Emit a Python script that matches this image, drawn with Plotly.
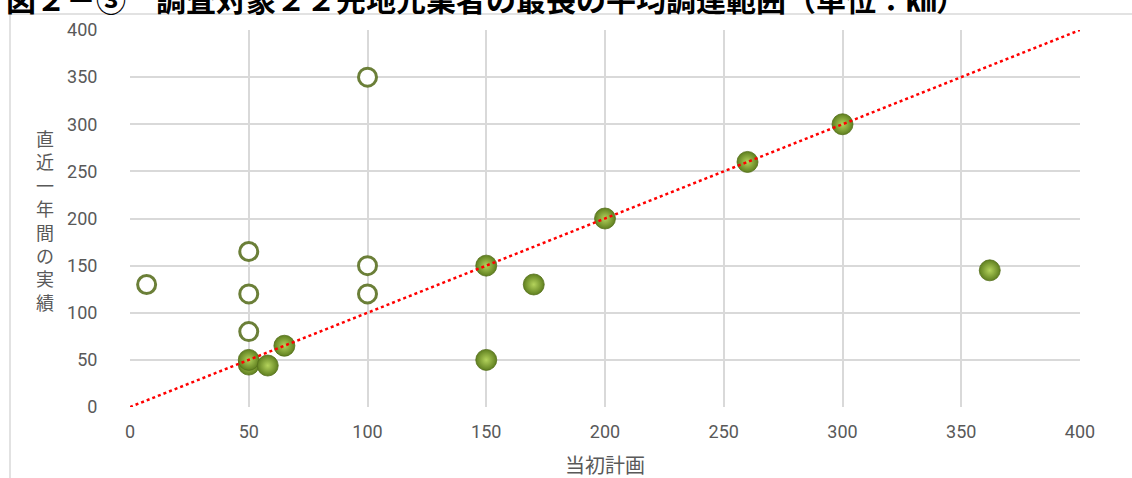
import plotly.graph_objects as go

# Data
hollow_x = [7, 50, 50, 50, 100, 100, 100]
hollow_y = [130, 165, 120, 80, 350, 150, 120]

filled_x = [50, 50, 58, 65, 150, 150, 170, 200, 260, 300, 362]
filled_y = [45, 50, 44, 65, 150, 50, 130, 200, 260, 300, 145]

line_x = [0, 400]
line_y = [0, 400]

tick_vals = [0, 50, 100, 150, 200, 250, 300, 350, 400]

title_text = "図２－③　調査対象２２先地元業者の最長の平均調達範囲（単位：㎞）"
x_title = "当初計画"
y_title = "直近一年間の実績"

W, H = 1132, 478
L, R, T, B = 130, 52, 30, 71
pw, ph = W - L - R, H - T - B

def px2x(px):
    return (px - L) / pw

def py2y(py):
    return (H - B - py) / ph

FONT = "Roboto, Noto Sans CJK JP, sans-serif"
GRID = "#d9d9d9"

fig = go.Figure()

fig.add_trace(go.Scatter(
    x=hollow_x, y=hollow_y, mode="markers",
    marker=dict(size=18, color="white",
                line=dict(color="#6b7f38", width=3)),
    showlegend=False, hoverinfo="x+y"))

fig.add_trace(go.Scatter(
    x=filled_x, y=filled_y, mode="markers",
    marker=dict(size=21, color="#5f7f1f",
                gradient=dict(type="radial", color="#b4d35c"),
                line=dict(color="#56701c", width=0.8)),
    showlegend=False, hoverinfo="x+y"))

fig.add_trace(go.Scatter(
    x=line_x, y=line_y, mode="lines",
    line=dict(color="#ff0000", width=2.5, dash="dot"),
    showlegend=False, hoverinfo="skip"))

annotations = [
    dict(text="<b>" + title_text + "</b>", xref="paper", yref="paper",
         x=px2x(4), y=py2y(-2), xanchor="left", yanchor="middle",
         showarrow=False,
         font=dict(family="Noto Sans CJK JP", size=30, color="#000000")),
    dict(text=x_title, xref="paper", yref="paper",
         x=0.5, y=py2y(465), xanchor="center", yanchor="middle",
         showarrow=False,
         font=dict(family="Noto Sans CJK JP", size=20, color="#595959")),
    dict(text="<br>".join(list(y_title)), xref="paper", yref="paper",
         x=px2x(45), y=py2y(220), xanchor="center", yanchor="middle",
         showarrow=False,
         font=dict(family="Noto Sans CJK JP", size=18, color="#595959")),
]

fig.update_layout(
    width=W, height=H,
    margin=dict(l=L, r=R, t=T, b=B, pad=0),
    paper_bgcolor="white", plot_bgcolor="white",
    font=dict(family=FONT, size=18, color="#595959"),
    xaxis=dict(range=[0, 400], tickvals=tick_vals, showgrid=True,
               gridcolor=GRID, gridwidth=2, zeroline=False,
               showline=False, ticks="", ticklabelstandoff=12,
               tickfont=dict(size=18, color="#595959")),
    yaxis=dict(range=[0, 400], tickvals=tick_vals, showgrid=True,
               gridcolor=GRID, gridwidth=2, zeroline=False,
               showline=True, linecolor="white", linewidth=3,
               ticks="", ticklabelstandoff=26,
               tickfont=dict(size=18, color="#595959")),
    shapes=[
        dict(type="line", xref="paper", yref="paper",
             x0=px2x(10), x1=px2x(1140), y0=py2y(14), y1=py2y(14),
             line=dict(color=GRID, width=1.5)),
        dict(type="line", xref="paper", yref="paper",
             x0=px2x(10), x1=px2x(10), y0=py2y(14), y1=py2y(490),
             line=dict(color=GRID, width=1.5)),
    ],
    annotations=annotations,
)

fig.write_html("out.html")
